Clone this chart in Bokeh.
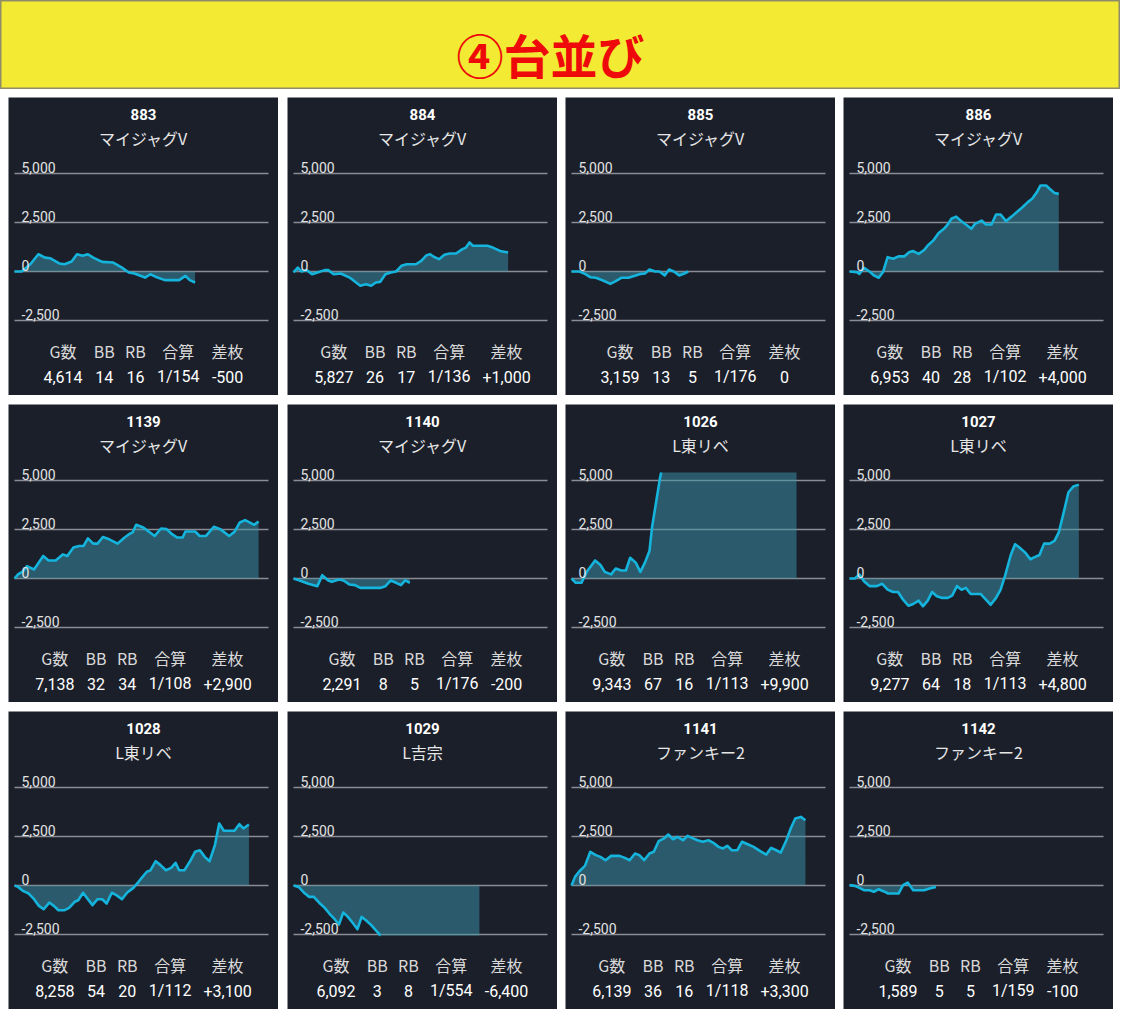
import numpy as np
from bokeh.plotting import figure
from bokeh.models import Label, Spacer
from bokeh.layouts import column, row
from bokeh.embed import file_html
from bokeh.resources import INLINE

# ---------------- data ----------------
banner_text = "④台並び"
machines = ["883", "884", "885", "886", "1139", "1140", "1026", "1027", "1028", "1029", "1141", "1142"]
models = ["マイジャグV", "マイジャグV", "マイジャグV", "マイジャグV", "マイジャグV", "マイジャグV",
          "L東リベ", "L東リベ", "L東リベ", "L吉宗", "ファンキー2", "ファンキー2"]
games = [4614, 5827, 3159, 6953, 7138, 2291, 9343, 9277, 8258, 6092, 6139, 1589]
bb = [14, 26, 13, 40, 32, 8, 67, 64, 54, 3, 36, 5]
rb = [16, 17, 5, 28, 34, 5, 16, 18, 20, 8, 16, 5]
combined = [154, 136, 176, 102, 108, 176, 113, 113, 112, 554, 118, 159]
diff = [-500, 1000, 0, 4000, 2900, -200, 9900, 4800, 3100, -6400, 3300, -100]
stat_headers = ["G数", "BB", "RB", "合算", "差枚"]
y_ticks = [-2500, 0, 2500, 5000]
y_tick_labels = ["-2,500", "0", "2,500", "5,000"]

# slump graphs: x = progress through the day (% of graph width), y = coins
x883 = [0, 2.8, 6.3, 9.4, 12, 14, 17.6, 19.7, 22.5, 24.6, 26.8, 28.9, 31, 34.5, 38.7, 42.3, 45, 47.2, 51.4, 53.5,
        56.3, 59.2, 64.8, 67.3, 69, 71.1]
y883 = [0, 0, 380, 880, 710, 680, 410, 370, 510, 880, 800, 880, 710, 490, 460, 200, -50, -100, -310, -140,
        -310, -440, -440, -220, -440, -560]
x884 = [0, 1.7, 3.1, 5.2, 7.3, 9.4, 12.3, 13.7, 15.8, 18.6, 22.1, 26.3, 28.5, 30.6, 32.4, 34.1, 36.2, 38.3, 40.4,
        42.5, 44.6, 48.2, 50.3, 52.4, 53.8, 55.2, 57.3, 59.4, 61.5, 64, 66.5, 67.9, 69.3, 70.7, 76.3, 78.5, 81.3, 84.5]
y884 = [-50, 200, 0, 70, -140, -50, 70, 70, -140, -100, -310, -730, -650, -730, -560, -530, -140, -50, 0,
        290, 370, 370, 540, 830, 880, 750, 630, 850, 920, 920, 1140, 1220, 1480, 1310, 1310, 1220, 1050, 970]
x885 = [0, 3.1, 5.3, 7.4, 9.6, 12.4, 15.3, 17.4, 19.6, 22.4, 25.3, 27.4, 28.9, 30.7, 32.9, 34.6, 36.7, 38.4, 40.3,
        42.4, 44.6, 46]
y885 = [0, 0, -120, -290, -320, -460, -630, -490, -320, -320, -200, -120, -100, 100, 0, 0, -200, 100, 0,
        -200, -90, 0]
x886 = [0, 2.9, 3.9, 5.7, 7.9, 9.6, 11.5, 13.2, 15, 17.2, 19.3, 21.5, 23.6, 25.1, 27.2, 29.4, 30.8, 33, 35.1, 37.2,
        38.7, 40.1, 42, 43.7, 45.8, 48, 49.4, 52, 53.7, 55.9, 57.7, 59.5, 61.6, 63.8, 65.9, 68.1, 70.2, 71.9, 73.8,
        75.2, 77.4, 78.8, 80.7, 82.4]
y886 = [0, -30, -120, 190, 0, -200, -320, -30, 730, 650, 770, 770, 990, 1040, 900, 1100, 1330, 1580, 1960, 2180,
        2400, 2690, 2800, 2600, 2400, 2180, 2430, 2600, 2400, 2400, 2910, 2910, 2570, 2800, 3030, 3280, 3540, 3710,
        4050, 4390, 4390, 4220, 4010, 3960]
x1139 = [0, 1.4, 3.5, 4.9, 7.7, 11.3, 13.4, 16.2, 19, 20.8, 23.2, 25.4, 27.2, 28.9, 31, 32.7, 34.8, 37.3, 40.6, 43,
         45.1, 46.5, 47.9, 50.7, 52.8, 55.2, 57.7, 59.9, 62, 64.1, 66.2, 67.3, 71.1, 72.9, 75.4, 78.5, 81, 84.5,
         86.6, 88.7, 90.8, 94.4, 96.1]
y1139 = [0, 210, 380, 630, 460, 1150, 920, 920, 1230, 1150, 1580, 1660, 1660, 2050, 1780, 1780, 2120, 2000, 1780,
         2050, 2260, 2350, 2740, 2600, 2400, 2170, 2550, 2520, 2260, 2090, 2090, 2400, 2400, 2170, 2170, 2640, 2520,
         2170, 2380, 2860, 2980, 2740, 2910]
x1140 = [0, 2.4, 5.9, 9.4, 11.3, 13.7, 15.1, 17.9, 19.7, 22.1, 24.2, 26.3, 34.1, 36.2, 38.3, 40.4, 42.3, 44, 45.8]
y1140 = [0, -100, -270, -390, 170, -100, -170, -50, -100, -310, -340, -480, -480, -390, -100, -220, -340, -100, -220]
x1026 = [0, 1.7, 3.9, 6, 9.3, 11.4, 13.1, 15.6, 17.4, 19.6, 21.4, 23.1, 25.3, 27.1, 28.9, 30.7, 31.7, 33.4, 34.9,
         36.2, 45, 55, 65, 75, 88.6]
y1026 = [0, -220, -220, 340, 920, 690, 340, 210, 510, 410, 410, 1060, 810, 340, 810, 1400, 2600, 3970, 5170,
         5900, 7200, 8100, 8900, 9600, 9900]
x1027 = [0, 2.1, 3.9, 5.7, 7.9, 10.7, 12.9, 15, 17.2, 19.1, 21.1, 23.2, 25.1, 27.2, 28.9, 30.8, 32.5, 34.4, 36.5,
         38.7, 40.4, 42.3, 44.1, 45.8, 47.7, 51.6, 53.7, 55.6, 57.7, 59.5, 61.2, 63.5, 65.2, 66.9, 69.2, 71.2, 73.1,
         74.8, 76.6, 78.8, 80.7, 82.4, 84.5, 86.2, 88.1, 90.3]
y1027 = [0, 0, 210, -140, -390, -390, -270, -570, -690, -690, -1080, -1390, -1300, -1130, -1420, -1130, -690, -910,
         -990, -990, -870, -390, -570, -480, -790, -790, -1080, -1340, -990, -570, 120, 1200, 1750, 1580, 1320, 980,
         1100, 1200, 1780, 1780, 1920, 2350, 3460, 4400, 4690, 4790]
x1028 = [0, 1.4, 3.5, 5.6, 7.7, 9.6, 11.5, 13.7, 15.5, 17.3, 19.7, 21.5, 23.7, 25.1, 27, 28.9, 30.7, 32.7, 34.5,
         36.3, 38.3, 40.1, 42.3, 44.4, 46.8, 48.6, 50.4, 52.1, 53.5, 55.6, 57.5, 59.6, 61.7, 63.4, 64.8, 66.9, 69,
         71.1, 73, 74.9, 76.8, 78.9, 80.6, 82.4, 86.6, 88.5, 90.1, 92.3]
y1028 = [0, -70, -290, -410, -700, -1040, -1210, -870, -1040, -1260, -1260, -1140, -830, -750, -370, -700, -1000,
         -700, -700, -920, -370, -490, -700, -360, -120, 150, 440, 700, 770, 1240, 1040, 780, 900, 1160, 780, 780,
         1210, 1720, 1800, 1460, 1240, 2060, 3160, 2790, 2790, 3130, 2910, 3110]
x1029 = [0, 2, 4.5, 6.2, 8, 10.1, 12.3, 14.1, 16.2, 17.9, 19.6, 21.4, 23.2, 25.2, 26.8, 28.5, 30.6, 32.7, 34.4,
         40, 50, 60, 73.2]
y1029 = [0, -70, -410, -580, -580, -880, -1140, -1430, -1720, -1990, -1380, -1600, -1890, -2230, -1600, -1770,
         -2020, -2330, -2570, -3300, -4300, -5300, -6400]
x1141 = [0, 1.4, 3.1, 5.3, 7.4, 9.6, 11.4, 13.4, 15.6, 18.9, 21, 22.9, 25, 26.7, 28.6, 30.7, 32.4, 34.3, 36.4, 38.1,
         40, 41.7, 43.9, 45.7, 47.4, 49.6, 51.7, 53.9, 55.7, 57.9, 59.6, 61.4, 63.1, 65.3, 67.1, 69.6, 71.7, 74.3,
         76.7, 78.6, 80.6, 82.4, 84.6, 86.3, 88.1, 90.3, 92.1]
y1141 = [0, 440, 730, 1000, 1720, 1550, 1460, 1290, 1510, 1510, 1410, 1290, 1630, 1550, 1290, 1630, 1720, 2260,
         2400, 2600, 2360, 2480, 2310, 2530, 2430, 2310, 2230, 2310, 2190, 1970, 1890, 2020, 1800, 1800, 2230, 2090,
         1970, 1750, 1580, 1920, 1800, 1680, 2310, 2910, 3420, 3500, 3330]
x1142 = [0, 2.1, 3.9, 5.7, 7.9, 9.6, 11.5, 13.3, 15.3, 19.3, 21.1, 22.9, 25.1, 29.4, 31.5, 34]
y1142 = [20, -20, -120, -240, -240, -320, -190, -290, -410, -410, 20, 150, -240, -240, -150, -70]

series_x = [x883, x884, x885, x886, x1139, x1140, x1026, x1027, x1028, x1029, x1141, x1142]
series_y = [y883, y884, y885, y886, y1139, y1140, y1026, y1027, y1028, y1029, y1141, y1142]

# ---------------- style / geometry ----------------
BG = "#1b1f2a"
LINE = "#14b4dc"
FILL = "#3995ab"
GRID = "#8a8d93"
JP = "Noto Sans CJK JP"
NUM = "Roboto"
HEAD_SIZE, VAL_SIZE = 16, 16

PW, PH = 270, 298            # panel size in px
GX0, GX1 = 6, 260            # grid line horizontal extent (px inside panel)
Y5000_PX, YM2500_PX = 76, 223
PX = 7500 / (YM2500_PX - Y5000_PX)   # coins per px
CLIP_TOP_PX, CLIP_BOT_PX = 68, 224   # chart area of the original card


def xd(px):
    return (px - GX0) * 100.0 / (GX1 - GX0)


def yd(py):
    return 5000 - (py - Y5000_PX) * PX


Y_HI, Y_LO = yd(CLIP_TOP_PX), yd(CLIP_BOT_PX)


def clip_series(xs, ys, lo, hi):
    """Clip a polyline to lo..hi: line is broken outside, area is flattened at the bound."""
    lx, ly, fx, fy = [], [], [], []
    for i, (x, y) in enumerate(zip(xs, ys)):
        if i > 0:
            x0, y0 = xs[i - 1], ys[i - 1]
            cr = []
            for b in (lo, hi):
                if (y0 - b) * (y - b) < 0:
                    t = (b - y0) / (y - y0)
                    cr.append((t, x0 + t * (x - x0), b))
            for _, xb, b in sorted(cr):
                lx.append(xb); ly.append(b); fx.append(xb); fy.append(b)
        inside = lo <= y <= hi
        lx.append(x); ly.append(y if inside else np.nan)
        fx.append(x); fy.append(min(max(y, lo), hi))
    return np.array(lx, float), np.array(ly, float), np.array(fx, float), np.array(fy, float)


def text_width(s, size):
    w = 0.0
    for ch in s:
        if ord(ch) > 0x2E80:
            w += 1.0
        elif ch.isdigit():
            w += 0.5625
        elif ch == ",":
            w += 0.2
        elif ch == "/":
            w += 0.41
        elif ch == "+":
            w += 0.57
        elif ch == "-":
            w += 0.3
        elif ch == "G":
            w += 0.68
        else:
            w += 0.6
    return w * size


def fmt_diff(d):
    return "0" if d == 0 else f"{d:+,}"


def label(p, px, py, text, font, size, color, align="center", baseline="middle", style="normal"):
    p.add_layout(Label(x=xd(px), y=yd(py), text=text, text_font=font, text_font_size=size,
                       text_font_style=style, text_color=color, text_align=align, text_baseline=baseline))


def panel(i):
    p = figure(width=PW, height=PH, x_range=(xd(0), xd(PW)), y_range=(yd(PH), yd(0)),
               output_backend="svg", toolbar_location=None,
               x_axis_location=None, y_axis_location=None,
               min_border_left=0, min_border_right=0, min_border_top=0, min_border_bottom=0,
               background_fill_color=BG, border_fill_color=BG, outline_line_color=None)
    p.xgrid.visible = False
    p.ygrid.visible = False

    # grid lines and their labels
    p.segment(x0=[0] * len(y_ticks), x1=[100] * len(y_ticks), y0=y_ticks, y1=y_ticks,
              line_color=GRID, line_width=1.5)
    for t, lab in zip(y_ticks, y_tick_labels):
        p.add_layout(Label(x=xd(13), y=t + 6 * PX, text=lab, text_font=NUM, text_font_size="14px",
                           text_color="#e2e2e2", text_align="left", text_baseline="alphabetic"))

    # slump graph
    lx, ly, fx, fy = clip_series(series_x[i], series_y[i], Y_LO, Y_HI)
    p.varea(x=fx, y1=np.zeros(len(fx)), y2=fy, fill_color=FILL, fill_alpha=0.5)
    p.line(x=lx, y=ly, line_color=LINE, line_width=2.6, line_join="round")

    # header
    label(p, PW / 2, 17, machines[i], NUM, "15px", "#ffffff", style="bold")
    label(p, PW / 2, 40, models[i], JP, "16px", "#e6e6e6")

    # stats table
    vals = [f"{games[i]:,}", str(bb[i]), str(rb[i]), f"1/{combined[i]}", fmt_diff(diff[i])]
    widths = [max(text_width(h, HEAD_SIZE), text_width(v, VAL_SIZE)) + 12 for h, v in zip(stat_headers, vals)]
    left = PW / 2 - sum(widths) / 2
    for h, v, w in zip(stat_headers, vals, widths):
        c = left + w / 2
        left += w
        label(p, c, 253, h, JP, f"{HEAD_SIZE}px", "#d9d9d9")
        label(p, c, 279, v, NUM, f"{VAL_SIZE}px", "#ffffff")
    return p


BW, BH = 1120, 89
banner = figure(width=BW, height=BH, x_range=(0, BW), y_range=(0, BH), output_backend="svg",
                toolbar_location=None, x_axis_location=None, y_axis_location=None,
                min_border_left=0, min_border_right=0, min_border_top=0, min_border_bottom=0,
                background_fill_color="#f2ea33", border_fill_color="#f2ea33",
                outline_line_color="#8f8c6a", outline_line_width=2)
banner.xgrid.visible = False
banner.ygrid.visible = False
banner.add_layout(Label(x=550, y=BH - 53, text=banner_text, text_font=JP, text_font_style="bold",
                        text_font_size="47px", text_color="#ee0a0a", text_align="center",
                        text_baseline="middle"))

panels = [panel(i) for i in range(12)]
gaps_x = [8, 9, 8, 8]
rows = []
for r in range(3):
    kids = []
    for c in range(4):
        kids.append(Spacer(width=gaps_x[c], height=PH))
        kids.append(panels[r * 4 + c])
    rows.append(row(kids, spacing=0))

layout = column([banner, Spacer(width=BW, height=8), rows[0], Spacer(width=BW, height=9), rows[1],
                 Spacer(width=BW, height=9), rows[2]], spacing=0)

open("out.html", "w").write(file_html(layout, INLINE))
